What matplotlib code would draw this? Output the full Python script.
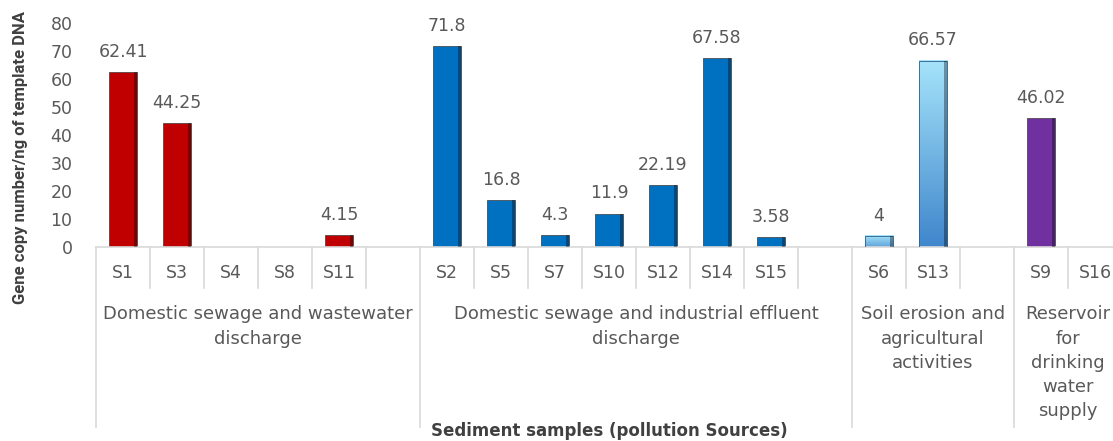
import numpy as np
import matplotlib.pyplot as plt
import matplotlib.transforms as mtransforms
from matplotlib.colors import LinearSegmentedColormap

# ---- data ----
samples = ["S1", "S3", "S4", "S8", "S11", "",
           "S2", "S5", "S7", "S10", "S12", "S14", "S15", "",
           "S6", "S13", "",
           "S9", "S16"]
values = [62.41, 44.25, 0, 0, 4.15, None,
          71.8, 16.8, 4.3, 11.9, 22.19, 67.58, 3.58, None,
          4, 66.57, None,
          46.02, 0]
group_names = ["Domestic sewage and wastewater\ndischarge",
               "Domestic sewage and industrial effluent\ndischarge",
               "Soil erosion and\nagricultural\nactivities",
               "Reservoir\nfor\ndrinking\nwater\nsupply"]
group_sizes = [6, 8, 3, 2]
group_colors = ["#C00000", "#0070C0", "gradient", "#7030A0"]

TXT = "#595959"
LINE = "#D9D9D9"
FS = 12.5

fig = plt.figure(figsize=(11.13, 4.41), dpi=100)
ax = fig.add_axes([96 / 1113, (441 - 247) / 441, 1026 / 1113, 224 / 441])

x = np.arange(len(samples))
bar_w = 0.52
light_cmap = LinearSegmentedColormap.from_list("lb", ["#3F86CC", "#A6E4FA"])

# bar colours by group
colors = []
for size, c in zip(group_sizes, group_colors):
    colors += [c] * size

for xi, v, c in zip(x, values, colors):
    if not v:
        continue
    if c == "gradient":
        grad = np.linspace(0, 1, 256).reshape(-1, 1)
        lo = 0.0 if v > 20 else 0.45   # short bar stays light
        ax.imshow(grad, cmap=light_cmap, aspect='auto', origin='lower',
                  extent=[xi - bar_w / 2, xi + bar_w / 2, 0, v],
                  vmin=-lo, vmax=1, zorder=2)
        ax.bar(xi, v, width=bar_w, color='none', edgecolor='#2E5F8A',
               linewidth=0.6, zorder=3)
    else:
        ax.bar(xi, v, width=bar_w, color=c, edgecolor='#3a3a3a',
               linewidth=0.5, zorder=2)
    # shadow on right side
    ax.bar(xi + bar_w / 2 - 0.025, v, width=0.05, color='black', alpha=0.35,
           linewidth=0, zorder=4)
    ax.text(xi, v + 4, f"{v:g}", ha='center', va='bottom', fontsize=FS, color=TXT)

ax.set_xlim(-0.5, len(samples) - 0.5)
ax.set_ylim(0, 80)
ax.set_yticks(range(0, 81, 10))
ax.tick_params(axis='y', length=0, labelsize=FS, labelcolor=TXT, pad=17)
ax.set_xticks([])
for s in ['top', 'right', 'left']:
    ax.spines[s].set_visible(False)
ax.spines['bottom'].set_color(LINE)
ax.spines['bottom'].set_linewidth(1.2)

trans = mtransforms.blended_transform_factory(ax.transData, ax.transAxes)

# sample labels and short dividers
for xi, lab in zip(x, samples):
    ax.text(xi, -0.116, lab, transform=trans, ha='center', va='center',
            fontsize=FS, color=TXT)

edges = np.cumsum([0] + group_sizes) - 0.5
for k in range(len(samples) + 1):
    pos = k - 0.5
    low = -0.805 if pos in edges else -0.183
    ax.plot([pos, pos], [0, low], transform=trans, color=LINE, lw=1.2,
            clip_on=False)

# group labels
for i, name in enumerate(group_names):
    mid = (edges[i] + edges[i + 1]) / 2
    ax.text(mid, -0.26, name, transform=trans, ha='center', va='top',
            fontsize=13, color=TXT, linespacing=1.45)

ax.text(0.5, -0.82, "Sediment samples (pollution Sources)", transform=ax.transAxes,
        ha='center', va='center', fontsize=12, fontweight='bold', color='#404040')
fig.text(21 / 1113, 1 - 158 / 441, "Gene copy number/ng of template DNA",
         rotation=90, ha='center', va='center', fontsize=12, fontweight='bold',
         color='#404040', family=['Roboto', 'DejaVu Sans'])

fig.savefig("out.png", dpi=100)
